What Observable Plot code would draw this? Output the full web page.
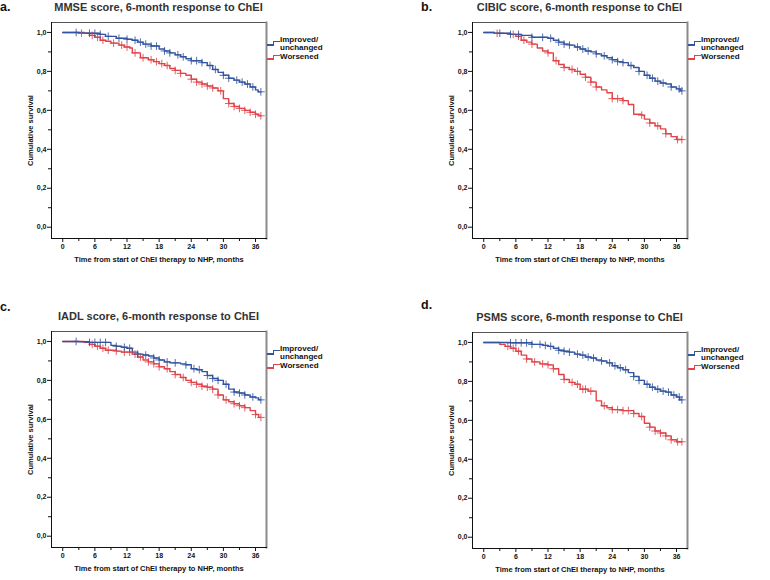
<!DOCTYPE html>
<html>
<head>
<meta charset="utf-8">
<script src="https://cdn.jsdelivr.net/npm/d3@7"></script>
<script src="https://cdn.jsdelivr.net/npm/@observablehq/plot@0.6"></script>
<style>
  html, body { margin: 0; padding: 0; background: #fff; }
  body { width: 770px; height: 580px; position: relative; overflow: hidden; font-family: "Liberation Sans", Arial, sans-serif; }
  .abs { position: absolute; }
  .lbl { font-size: 12.5px; font-weight: bold; color: #111; line-height: 14px; }
  .ttl { font-size: 11px; font-weight: bold; color: #333; white-space: nowrap; transform: translate(-50%, -50%); }
  .leg { font-size: 8px; font-weight: bold; color: #111; line-height: 8.5px; white-space: nowrap; }
  .seg { position: absolute; box-sizing: border-box; }
</style>
</head>
<body>
<script>
// ---------------- data (time in months, cumulative survival) ----------------
const xMajorTicks = [0, 6, 12, 18, 24, 30, 36];
const xMinorTicks = [3, 9, 15, 21, 27, 33];
const yMajorTicks = [0, 0.2, 0.4, 0.6, 0.8, 1.0];
const yMinorTicks = [0.1, 0.3, 0.5, 0.7, 0.9];
const seriesNames = ["Improved/\nunchanged", "Worsened"];
const panelLetters = ["a.", "b.", "c.", "d."];
const panelTitles = [
  "MMSE score, 6-month response to ChEI",
  "CIBIC score, 6-month response to ChEI",
  "IADL score, 6-month response to ChEI",
  "PSMS score, 6-month response to ChEI"
];
const xLabel = "Time from start of ChEI therapy to NHP, months";
const yLabel = "Cumulative survival";

// a. MMSE
const mmseImproved = [[0,1],[4,0.996],[7,0.99],[8,0.98],[10,0.97],[12,0.965],[13,0.96],[14,0.95],[15,0.94],[16.5,0.93],[18,0.915],[19,0.905],[20,0.895],[21,0.885],[22,0.875],[23,0.865],[24,0.855],[26,0.845],[27,0.83],[28,0.81],[29,0.795],[30,0.78],[31,0.765],[32,0.755],[33,0.745],[34,0.735],[35,0.72],[36,0.705],[36.5,0.695],[37,0.695]];
const mmseWorsened = [[0,1],[3,0.996],[5,0.985],[6,0.975],[7,0.96],[8,0.955],[9,0.945],[10.5,0.935],[11.5,0.925],[12.5,0.92],[13,0.895],[14.5,0.87],[16,0.86],[17,0.85],[18,0.84],[19,0.83],[20,0.815],[21,0.805],[22,0.79],[23,0.78],[24,0.76],[25,0.745],[26,0.735],[27,0.725],[28,0.715],[29,0.7],[30,0.66],[31,0.635],[32,0.62],[33,0.61],[34,0.6],[35,0.59],[36,0.58],[36.6,0.572],[37,0.572]];
const mmseImprovedCensor = [2.5,5,6,7,8.5,10.5,12,13.5,14.5,15.5,16.5,17.5,19,20,21.5,22.5,24,25,26,27.5,28.5,30,31,32.5,33.5,34.5,35.5,37];
const mmseWorsenedCensor = [3.5,5.5,6.5,7.5,9.5,11,12,13.5,15,16.5,17.5,18.5,19.5,21,22,24,25,26,27,28,29.5,31,32,33,34,35,36,37];

// b. CIBIC
const cibicImproved = [[0,1],[2,0.996],[5,0.99],[7,0.985],[9,0.975],[12,0.97],[13,0.96],[14,0.95],[15,0.94],[16,0.935],[17,0.925],[18,0.915],[19,0.905],[20,0.9],[21,0.89],[22,0.88],[23,0.87],[24,0.86],[25,0.85],[26,0.845],[27,0.83],[28,0.82],[29,0.8],[30,0.78],[31,0.765],[32,0.75],[33,0.74],[34,0.735],[35,0.72],[36,0.71],[36.7,0.7],[37,0.7]];
const cibicWorsened = [[0,1],[2,0.995],[5,0.99],[6,0.98],[7,0.96],[8,0.95],[9,0.94],[10,0.92],[11,0.905],[12,0.895],[13,0.855],[14,0.835],[15,0.82],[16,0.81],[17,0.8],[18,0.785],[19,0.77],[20,0.745],[21,0.72],[22,0.705],[23,0.69],[24,0.66],[26,0.65],[27,0.63],[28,0.58],[29.5,0.575],[30,0.555],[31,0.535],[32,0.52],[33,0.505],[34,0.48],[35,0.465],[36,0.45],[37,0.45]];
const cibicImprovedCensor = [3,5,6.5,9,11,12.5,14,15,16,17.5,18.5,19.5,21,22.5,24,25,26,27.5,29,30.5,31.5,32.5,33.5,35,36.5,37];
const cibicWorsenedCensor = [2.5,5.5,6.5,7.5,9,12,13.5,15,16.5,17.5,19,20,21,24,25,26,29.5,31,32.5,34,36.2,37];

// c. IADL
const iadlImproved = [[0,1],[3,0.998],[5,0.995],[9,0.98],[10,0.975],[11,0.97],[12,0.965],[13,0.945],[14,0.935],[15,0.93],[16,0.925],[17,0.915],[18,0.905],[19,0.895],[20,0.89],[22,0.885],[23,0.88],[24,0.86],[25,0.855],[26,0.845],[27,0.825],[28,0.81],[29,0.8],[30,0.78],[31,0.755],[32,0.74],[33,0.735],[34,0.725],[35,0.715],[36,0.71],[36.6,0.7],[37,0.7]];
const iadlWorsened = [[0,1],[4,0.995],[5,0.985],[6,0.975],[7,0.965],[8,0.955],[10,0.95],[11,0.945],[13,0.935],[14,0.92],[15,0.905],[16,0.895],[17,0.885],[18,0.87],[19,0.86],[20,0.845],[21,0.83],[22,0.815],[23,0.8],[24,0.79],[25,0.78],[26,0.77],[27,0.765],[28,0.755],[29,0.725],[30,0.7],[31,0.69],[32,0.68],[33,0.67],[34,0.66],[35,0.645],[36,0.625],[36.6,0.61],[37,0.61]];
const iadlImprovedCensor = [2.5,5,6,7,8,10,11.5,12.5,14,15.5,17,18,19.5,21,23,24.5,25.5,27,28,29,30.5,32,33,34,35.5,37];
const iadlWorsenedCensor = [5.5,6.5,7.5,8.5,10,11.5,12.5,13.5,14.5,16,17,18,19.5,21,22.5,24,25,26,27,28,29,30.5,32,33,34,36,37];

// d. PSMS
const psmsImproved = [[0,1],[5,0.998],[9,0.99],[11,0.985],[12,0.98],[13,0.97],[14,0.96],[15,0.955],[16,0.95],[17,0.94],[18,0.935],[19,0.925],[20,0.92],[21,0.91],[22,0.905],[23,0.895],[24,0.88],[25,0.87],[26,0.86],[27,0.845],[28,0.825],[29,0.805],[30,0.785],[31,0.77],[32,0.76],[33,0.75],[34,0.745],[35,0.73],[36,0.72],[36.6,0.705],[37,0.705]];
const psmsWorsened = [[0,1],[3,0.99],[4,0.98],[5,0.97],[6,0.955],[7,0.935],[8,0.915],[9,0.9],[10.5,0.89],[12,0.885],[13,0.865],[14,0.835],[15,0.81],[16,0.795],[17,0.785],[18,0.76],[19.5,0.75],[21,0.7],[22,0.675],[23,0.665],[24,0.655],[26,0.65],[28,0.635],[29,0.62],[30,0.585],[31,0.565],[32,0.545],[33,0.535],[34,0.52],[35,0.5],[36,0.49],[37,0.49]];
const psmsImprovedCensor = [5,6,7,8,9,10.5,11.5,12.5,14,15,16,17.5,18.5,19.5,20.5,22,23.5,24.5,25.5,26.5,28,29,30.5,31.5,32.5,33.5,34.5,35.5,36.5,37];
const psmsWorsenedCensor = [4.5,5.5,6.5,8,9.5,11,12,13,15,16.5,17.5,18.5,19,20,22.5,24,25,26,27,28,29.5,31,32,33,34,35,36.2,37];

const blue = "#33559f";
const red = "#e0444a";

// ---------------- layout ----------------
const panels = [
  {imp: mmseImproved, wor: mmseWorsened, impC: mmseImprovedCensor, worC: mmseWorsenedCensor, left: 0, frameTop: 22, lblX: 0, lblTop: 0},
  {imp: cibicImproved, wor: cibicWorsened, impC: cibicImprovedCensor, worC: cibicWorsenedCensor, left: 421, frameTop: 22, lblX: 421, lblTop: 0},
  {imp: iadlImproved, wor: iadlWorsened, impC: iadlImprovedCensor, worC: iadlWorsenedCensor, left: 0, frameTop: 331, lblX: 0, lblTop: 299.5},
  {imp: psmsImproved, wor: psmsWorsened, impC: psmsImprovedCensor, worC: psmsWorsenedCensor, left: 421, frameTop: 332, lblX: 421, lblTop: 298}
];

const ML = 51, MR = 64, MT = 8, MB = 30, W = 330, H = 254;
const frameW = W - ML - MR;

function stepValue(curve, t) {
  let s = curve[0][1];
  for (const [tt, ss] of curve) if (tt <= t) s = ss;
  return s;
}

function makePlot(p) {
  const rows = (c) => c.map(([t, s]) => ({t, s}));
  const cens = (c, times) => times.map(t => ({t, s: stepValue(c, t)}));
  return Plot.plot({
    width: W, height: H,
    marginLeft: ML, marginRight: MR, marginTop: MT, marginBottom: MB,
    x: {domain: [-2.1, 38.05]},
    y: {domain: [-0.058, 1.051]},
    style: {fontFamily: "'Liberation Sans', Arial, sans-serif", fontSize: "7px", fontWeight: "bold", background: "transparent", color: "#111", overflow: "visible"},
    marks: [
      Plot.frame({stroke: "#555", strokeWidth: 1}),
      Plot.frame({anchor: "right", stroke: "#8a8a8a", strokeWidth: 2}),
      Plot.frame({anchor: "left", stroke: "#111", strokeWidth: 1}),
      Plot.frame({anchor: "bottom", stroke: "#111", strokeWidth: 1}),
      Plot.axisY(yMajorTicks, {tickSize: 4, tickPadding: 1, tickFormat: d => d.toFixed(1).replace(".", ","), label: null}),
      Plot.axisY(yMinorTicks, {tickSize: 3, tickFormat: () => "", label: null}),
      Plot.axisX(xMajorTicks, {tickSize: 4, tickPadding: 2, label: null}),
      Plot.axisX(xMinorTicks, {tickSize: 3, tickFormat: () => "", label: null}),
      Plot.line(rows(p.wor), {x: "t", y: "s", curve: "step-after", stroke: red, strokeWidth: 1.4}),
      Plot.line(rows(p.imp), {x: "t", y: "s", curve: "step-after", stroke: blue, strokeWidth: 1.4}),
      Plot.dot(cens(p.wor, p.worC), {x: "t", y: "s", symbol: "plus", r: 2.6, stroke: red, strokeWidth: 1, strokeOpacity: 0.85}),
      Plot.dot(cens(p.imp, p.impC), {x: "t", y: "s", symbol: "plus", r: 2.6, stroke: blue, strokeWidth: 1, strokeOpacity: 0.85}),
      Plot.text([yLabel], {frameAnchor: "left", dx: -21, rotate: -90, textAnchor: "middle", lineAnchor: "middle", fontSize: 7.5, fill: "#111"}),
      Plot.text([xLabel], {frameAnchor: "bottom", dy: 21, textAnchor: "middle", lineAnchor: "middle", fontSize: 7.5, fill: "#111"})
    ]
  });
}

function seg(left, top, width, height, css) {
  const d = document.createElement("div");
  d.className = "seg";
  d.style.left = left + "px";
  d.style.top = top + "px";
  d.style.width = width + "px";
  d.style.height = height + "px";
  Object.assign(d.style, css);
  document.body.appendChild(d);
}

function legendIcon(x, yLow, color) {
  // lower half step (left) then rise and upper half (right)
  seg(x, yLow - 0.6, 7, 1.3, {background: color});
  seg(x + 6.4, yLow - 4, 1.3, 4.6, {background: color});
  seg(x + 6.4, yLow - 4.2, 7.2, 1.3, {background: color});
}

panels.forEach((p, i) => {
  const svg = makePlot(p);
  svg.classList.add("abs");
  svg.style.left = p.left + "px";
  svg.style.top = (p.frameTop - MT) + "px";
  document.body.appendChild(svg);

  const frameLeft = p.left + ML;
  const frameRight = frameLeft + frameW;

  const lbl = document.createElement("div");
  lbl.className = "abs lbl";
  lbl.textContent = panelLetters[i];
  lbl.style.left = p.lblX + "px";
  lbl.style.top = p.lblTop + "px";
  document.body.appendChild(lbl);

  const ttl = document.createElement("div");
  ttl.className = "abs ttl";
  ttl.textContent = panelTitles[i];
  ttl.style.left = (frameLeft + frameW / 2) + "px";
  ttl.style.top = (p.frameTop - 15.3) + "px";
  document.body.appendChild(ttl);

  legendIcon(frameRight + 0.5, p.frameTop + 23, blue);
  legendIcon(frameRight + 0.5, p.frameTop + 37, red);

  const t1 = document.createElement("div");
  t1.className = "abs leg";
  t1.innerHTML = seriesNames[0].replace("\n", "<br>");
  t1.style.left = (frameRight + 14) + "px";
  t1.style.top = (p.frameTop + 13.5) + "px";
  document.body.appendChild(t1);
  const t2 = document.createElement("div");
  t2.className = "abs leg";
  t2.textContent = seriesNames[1];
  t2.style.left = (frameRight + 14) + "px";
  t2.style.top = (p.frameTop + 30.8) + "px";
  document.body.appendChild(t2);
});
</script>
</body>
</html>
